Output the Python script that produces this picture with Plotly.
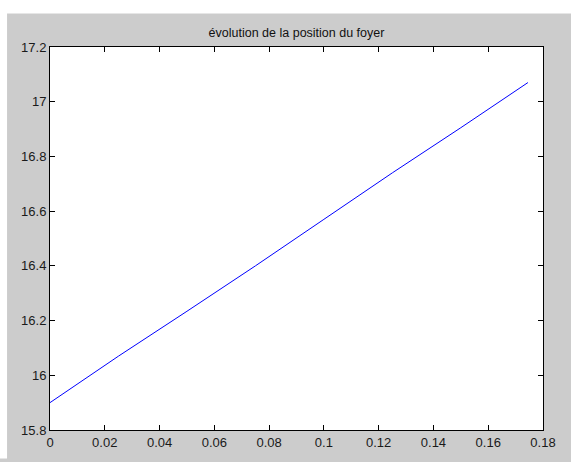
import plotly.graph_objects as go

# data
x_vals = [0.0, 0.025, 0.05, 0.075, 0.1, 0.125, 0.15, 0.1745]
y_vals = [15.90, 16.07, 16.234, 16.40, 16.57, 16.74, 16.905, 17.07]
x_ticks = [0, 0.02, 0.04, 0.06, 0.08, 0.1, 0.12, 0.14, 0.16, 0.18]
x_ticklabels = ["0", "0.02", "0.04", "0.06", "0.08", "0.1", "0.12", "0.14", "0.16", "0.18"]
y_ticks = [15.8, 16, 16.2, 16.4, 16.6, 16.8, 17, 17.2]
y_ticklabels = ["15.8", "16", "16.2", "16.4", "16.6", "16.8", "17", "17.2"]
title = "évolution de la position du foyer"

W, H = 571, 462
L, R, T, B = 50, 27.5, 47, 25
pw, ph = W - L - R, H - T - B

fig = go.Figure()
fig.add_trace(go.Scatter(x=x_vals, y=y_vals, mode="lines",
                         line=dict(color="#0000ff", width=1), showlegend=False))

axis_common = dict(showgrid=False, zeroline=False, showline=True, linecolor="#000000",
                   linewidth=1, mirror="ticks", ticks="inside", ticklen=5,
                   tickcolor="#000000", tickwidth=1,
                   tickfont=dict(family="Liberation Sans, Arial", size=13, color="#1a1a1a"))

fig.update_xaxes(range=[0, 0.18], tickvals=x_ticks, ticktext=x_ticklabels, **axis_common)
fig.update_yaxes(range=[15.8, 17.2], tickvals=y_ticks, ticktext=y_ticklabels, **axis_common)

# white strips at the top and left of the grey figure background
fig.add_shape(type="rect", xref="paper", yref="paper", layer="below",
              x0=-L / pw - 0.01, x1=(W - L) / pw + 0.01,
              y0=(H - 13 - B) / ph, y1=(H - B) / ph + 0.01,
              fillcolor="#ffffff", line=dict(width=0))
fig.add_shape(type="rect", xref="paper", yref="paper", layer="below",
              x0=-L / pw - 0.01, x1=(7 - L) / pw,
              y0=-B / ph - 0.01, y1=(H - B) / ph + 0.01,
              fillcolor="#ffffff", line=dict(width=0))

fig.update_layout(
    width=W, height=H,
    margin=dict(l=L, r=R, t=T, b=B, pad=0),
    paper_bgcolor="#cccccc", plot_bgcolor="#ffffff",
    title=dict(text=title, x=(296.5) / W, xanchor="center", y=1 - 33 / H, yanchor="middle",
               font=dict(family="Liberation Sans, Arial", size=12.5, color="#111111")),
)

fig.write_html("out.html")
